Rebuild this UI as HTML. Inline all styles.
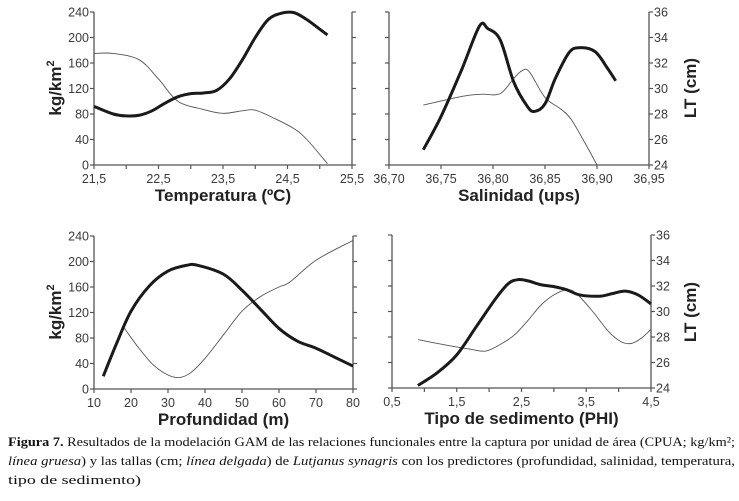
<!DOCTYPE html>
<html><head><meta charset="utf-8"><style>
html,body{margin:0;padding:0;background:#fff;}
svg{display:block;font-family:"Liberation Sans",Arial,sans-serif;}
.tk{font-size:12.5px;fill:#3a3a3a;}
.xt{font-size:17px;font-weight:bold;fill:#222;}
.cap{font-family:"Liberation Serif",serif;font-size:13px;fill:#111;}
</style></head><body>
<svg id="chart" width="739" height="501" viewBox="0 0 739 501" xmlns="http://www.w3.org/2000/svg">
<text class="cap" x="8" y="446" textLength="727" lengthAdjust="spacingAndGlyphs"><tspan font-weight="bold">Figura 7.</tspan> Resultados de la modelación GAM de las relaciones funcionales entre la captura por unidad de área (CPUA; kg/km²;</text>
<text class="cap" x="8" y="465" textLength="727" lengthAdjust="spacingAndGlyphs"><tspan font-style="italic">línea gruesa</tspan>) y las tallas (cm; <tspan font-style="italic">línea delgada</tspan>) de <tspan font-style="italic">Lutjanus synagris</tspan> con los predictores (profundidad, salinidad, temperatura,</text>
<text class="cap" x="8" y="484" textLength="133" lengthAdjust="spacingAndGlyphs">tipo de sedimento)</text>
</svg>
<script>
// Temperature panel
const tempThickX = [21.5,21.8,22.0,22.2,22.4,22.6,22.8,23.0,23.2,23.4,23.6,23.8,24.0,24.2,24.4,24.6,24.8,25.0,25.12];
const tempThickY = [92,80,77,78,85,97,107,112,113,117,135,165,200,228,238,239,228,213,204];
const tempThinX = [21.5,21.8,22.2,22.5,22.8,23.2,23.5,23.8,24.0,24.3,24.6,24.8,25.12];
const tempThinY = [32.75,32.75,32.25,30.75,29,28.35,28.05,28.25,28.3,27.65,26.85,26,24.1];
const tempTicks = ["21,5","22,5","23,5","24,5","25,5"];
// Salinity panel
const salThickX = [36.733,36.75,36.77,36.787,36.795,36.807,36.82,36.833,36.84,36.85,36.86,36.873,36.883,36.898,36.91,36.918];
const salThickY = [25.2,27.8,31.5,34.9,34.7,33.8,30.5,28.6,28.2,28.8,30.8,32.8,33.2,32.9,31.6,30.6];
const salThinX = [36.733,36.76,36.775,36.79,36.807,36.82,36.828,36.835,36.85,36.865,36.875,36.89,36.9];
const salThinY = [28.7,29.2,29.45,29.55,29.6,30.8,31.4,31.3,29.3,28.4,27.6,25.5,24];
const salTicks = ["36,70","36,75","36,80","36,85","36,90","36,95"];
// Depth panel
const depThickX = [12.5,16,20,25,30,35,38,45,50,55,60,65,70,75,80];
const depThickY = [20,70,122,162,185,194,194,180,155,125,95,75,64,50,36];
const depThinX = [18,22,26,30,33,36,40,45,50,55,60,63,70,80];
const depThinY = [28.85,27.25,25.9,25.1,24.9,25.25,26.4,28.25,30.1,31.25,32,32.4,34.1,35.65];
const depTicks = ["10","20","30","40","50","60","70","80"];
// Sediment panel
const sedThickX = [0.9,1.2,1.5,1.8,2.1,2.3,2.45,2.6,2.8,3.0,3.2,3.4,3.7,3.9,4.1,4.3,4.5];
const sedThickY = [24.2,25.2,26.6,28.8,31,32.2,32.5,32.4,32.1,31.95,31.7,31.3,31.2,31.4,31.6,31.3,30.6];
const sedThinX = [0.9,1.3,1.7,1.95,2.2,2.4,2.6,2.8,3.0,3.2,3.35,3.6,3.85,4.05,4.2,4.35,4.5];
const sedThinY = [27.8,27.4,27.05,26.9,27.5,28.2,29.3,30.5,31.3,31.7,31.4,30,28.4,27.6,27.5,27.9,28.6];
const sedTicks = ["0,5","1,5","2,5","3,5","4,5"];
const kgTicks = ["0","40","80","120","160","200","240"];
const ltTicks = ["24","26","28","30","32","34","36"];

const NS="http://www.w3.org/2000/svg";
const svg=document.getElementById('chart');
function mk(tag,attrs,parent){const e=document.createElementNS(NS,tag);for(const k in attrs)e.setAttribute(k,attrs[k]);(parent||svg).appendChild(e);return e;}
function smooth(pts){let d="M"+pts[0][0]+","+pts[0][1];for(let i=0;i<pts.length-1;i++){const p0=pts[i-1]||pts[i],p1=pts[i],p2=pts[i+1],p3=pts[i+2]||p2;
 const c1x=p1[0]+(p2[0]-p0[0])/6,c1y=p1[1]+(p2[1]-p0[1])/6,c2x=p2[0]-(p3[0]-p1[0])/6,c2y=p2[1]-(p3[1]-p1[1])/6;
 d+=" C"+c1x+","+c1y+" "+c2x+","+c2y+" "+p2[0]+","+p2[1];}return d;}

function panel(o){
 const g=mk('g',{});
 
 
 const xs=v=>o.x0+(v-o.xmin)/(o.xmax-o.xmin)*(o.x1-o.x0);
 const yKg=v=>o.yb-(v/240)*(o.yb-o.yt);
 const yLt=v=>o.yb-((v-24)/12)*(o.yb-o.yt);
 const ax=mk('path',{d:`M${o.x0},${o.yt} V${o.yb} H${o.x1} V${o.yt}`,fill:'none',stroke:'#555','stroke-width':1.3},g);
 
 
 // y ticks
 for(let i=0;i<7;i++){const y=o.yb-i*(o.yb-o.yt)/6;
  mk('line',{x1:o.x0-4,x2:o.x0,y1:y,y2:y,stroke:'#555','stroke-width':1.2},g);
  mk('line',{x1:o.x1,x2:o.x1+4,y1:y,y2:y,stroke:'#555','stroke-width':1.2},g);
  if(o.leftLabels){const t=mk('text',{x:o.x0-5,y:y+4.5,'text-anchor':'end',class:'tk'},g);t.textContent=kgTicks[i];
   
   }
  if(o.rightLabels){const t=mk('text',{x:o.x1+5,y:y+4.5,'text-anchor':'start',class:'tk'},g);t.textContent=ltTicks[i];
   
   }
 }
 // x ticks
 const n=o.ticks.length, minor=o.minor;
 const steps=(n-1)*minor;
 for(let i=0;i<=steps;i++){const x=o.x0+i*(o.x1-o.x0)/steps;
  mk('line',{x1:x,x2:x,y1:o.yb,y2:o.yb+4,stroke:'#555','stroke-width':1.2},g);}
 o.ticks.forEach((lab,i)=>{const x=o.x0+i*(o.x1-o.x0)/(n-1);
  const t=mk('text',{x:x,y:o.yb+18,'text-anchor':'middle',class:'tk'},g);t.textContent=lab;
  
  });
 const xt=mk('text',{x:(o.x0+o.x1)/2,y:o.yb+36,'text-anchor':'middle',class:'xt'},g);xt.textContent=o.title;
 
 
 const thinY=o.thinY.map(yLt), thickY=o.thickKg?o.thickY.map(yKg):o.thickY.map(yLt);
 const thin=mk('path',{d:smooth(o.thinX.map((v,i)=>[xs(v),thinY[i]])),fill:'none',stroke:'#555','stroke-width':0.9},g);
 
 
 const thick=mk('path',{d:smooth(o.thickX.map((v,i)=>[xs(v),thickY[i]])),fill:'none',stroke:'#1a1a1a','stroke-width':3,'stroke-linejoin':'round'},g);
 
 
}
panel({name:'temperature-panel',x0:94,x1:352,yt:12,yb:165,xmin:21.5,xmax:25.5,ticks:tempTicks,minor:2,title:'Temperatura (ºC)',leftLabels:true,thickKg:true,thickX:tempThickX,thickY:tempThickY,thinX:tempThinX,thinY:tempThinY});
panel({name:'salinity-panel',x0:389,x1:649,yt:12,yb:165,xmin:36.70,xmax:36.95,ticks:salTicks,minor:1,title:'Salinidad (ups)',rightLabels:true,thickKg:false,thickX:salThickX,thickY:salThickY,thinX:salThinX,thinY:salThinY});
panel({name:'depth-panel',x0:94,x1:353,yt:236,yb:389,xmin:10,xmax:80,ticks:depTicks,minor:1,title:'Profundidad (m)',leftLabels:true,thickKg:true,thickX:depThickX,thickY:depThickY,thinX:depThinX,thinY:depThinY});
panel({name:'sediment-panel',x0:392,x1:651,yt:235,yb:388,xmin:0.5,xmax:4.5,ticks:sedTicks,minor:2,title:'Tipo de sedimento (PHI)',rightLabels:true,thickKg:false,thickX:sedThickX,thickY:sedThickY,thinX:sedThinX,thinY:sedThinY});
function ytitle(txt,x,y,name){const t=mk('text',{x:x,y:y,transform:`rotate(-90 ${x} ${y})`,'text-anchor':'middle',class:'xt'});
 
 
 if(txt==='kg'){t.innerHTML='kg/km<tspan dy="-7" font-size="11">2</tspan>';}else t.textContent=txt;}
ytitle('kg',61,88,'y-axis-title-top');
ytitle('kg',61,312,'y-axis-title-bottom');
ytitle('LT (cm)',696,88,'y2-axis-title-top');
ytitle('LT (cm)',696,312,'y2-axis-title-bottom');
</script>
</body></html>
